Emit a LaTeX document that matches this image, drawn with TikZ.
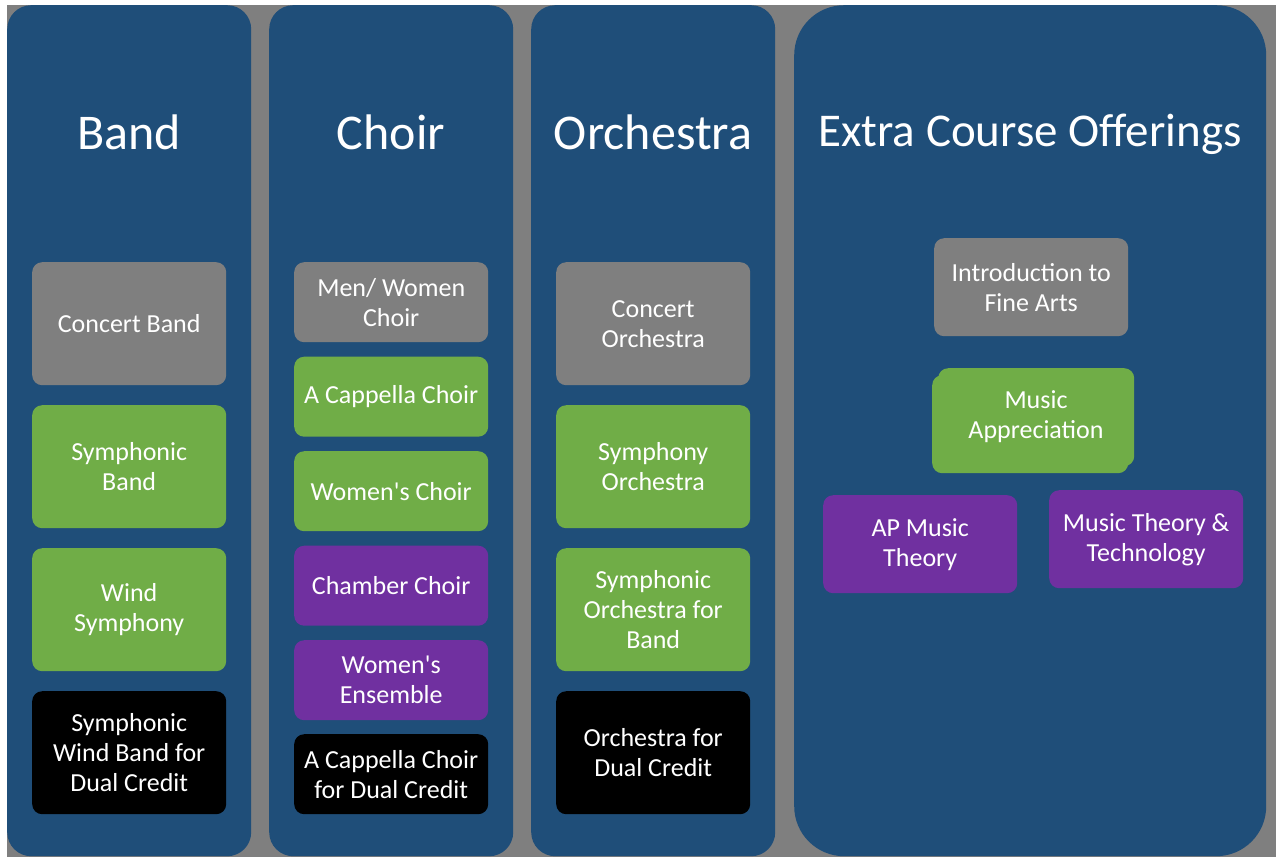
\documentclass[tikz,border=0pt]{standalone}
\usepackage{fontspec}
\setmainfont{Carlito}[Ligatures=TeXOff]
\definecolor{bgray}{HTML}{7F7F7F}
\definecolor{colblue}{HTML}{1F4E79}
\definecolor{bgreen}{HTML}{70AD47}
\definecolor{bpurple}{HTML}{7030A0}
\tikzset{
  col/.style={fill=colblue, draw=none, rounded corners=24pt, minimum width=244pt, minimum height=851pt, anchor=north west, inner sep=0pt},
  ttl/.style={text=white, font=\fontsize{50}{58}\selectfont, anchor=base, inner sep=0pt},
  box/.style={draw=none, rounded corners=10pt, minimum width=194pt, text=white, align=center, inner sep=0pt, font=\fontsize{26}{30}\selectfont, anchor=north west},
  tall/.style={box, minimum height=123pt},
  short/.style={box, minimum height=80pt},
  gbox/.style={fill=bgray},
  grbox/.style={fill=bgreen},
  pbox/.style={fill=bpurple},
  kbox/.style={fill=black},
}
\begin{document}
\begin{tikzpicture}[x=1pt,y=-1pt]
\useasboundingbox (0,0) rectangle (1276,857);
\fill[white] (0,0) rectangle (1276,857);
\fill[bgray] (7,5) rectangle (1276,857);
% columns
\node[col] (cband) at (7,5) {};
\node[col] (cchoir) at (269,5) {};
\node[col] (corch) at (531,5) {};
\node[col, rounded corners=50pt, minimum width=472pt] (cextra) at (794,5) {};
% titles
\node[ttl] (tband) at (129,149) {Band};
\node[ttl] (tchoir) at (391,149) {Choir};
\node[ttl] (torch) at (653,149) {Orchestra};
\node[ttl, font=\fontsize{47}{54}\selectfont] (textra) at (1030,146) {Extra Course Offerings};
% band
\node[tall, gbox] (b1) at (32,262) {Concert Band};
\node[tall, grbox] (b2) at (32,405) {Symphonic\\Band};
\node[tall, grbox] (b3) at (32,548) {Wind\\Symphony};
\node[tall, kbox] (b4) at (32,691) {Symphonic\\Wind Band for\\Dual Credit};
% choir
\node[short, gbox] (c1) at (294,262) {Men/ Women\\Choir};
\node[short, grbox] (c2) at (294,356.5) {A Cappella Choir};
\node[short, grbox] (c3) at (294,451) {Women's Choir};
\node[short, pbox] (c4) at (294,545.5) {Chamber Choir};
\node[short, pbox] (c5) at (294,640) {Women's\\Ensemble};
\node[short, kbox] (c6) at (294,734) {A Cappella Choir\\for Dual Credit};
% orchestra
\node[tall, gbox] (o1) at (556,262) {Concert\\Orchestra};
\node[tall, grbox] (o2) at (556,405) {Symphony\\Orchestra};
\node[tall, grbox] (o3) at (556,548) {Symphonic\\Orchestra for\\Band};
\node[tall, kbox] (o4) at (556,691) {Orchestra for\\Dual Credit};
% extra
\node[box, gbox, minimum height=98pt] (e1) at (934,238) {Introduction to\\Fine Arts};
\node[box, grbox, minimum width=196pt, minimum height=98pt] (e2b) at (938,368) {};
\node[box, grbox, minimum width=196pt, minimum height=98pt] (e2a) at (932,375) {};
\node[box, anchor=center] (e2) at (1036,417) {Music\\Appreciation};
\node[box, pbox, minimum height=98pt] (e3) at (823,495) {AP Music\\Theory};
\node[box, pbox, minimum height=98pt] (e4) at (1049,490) {Music Theory \&\\Technology};
\end{tikzpicture}
\end{document}
